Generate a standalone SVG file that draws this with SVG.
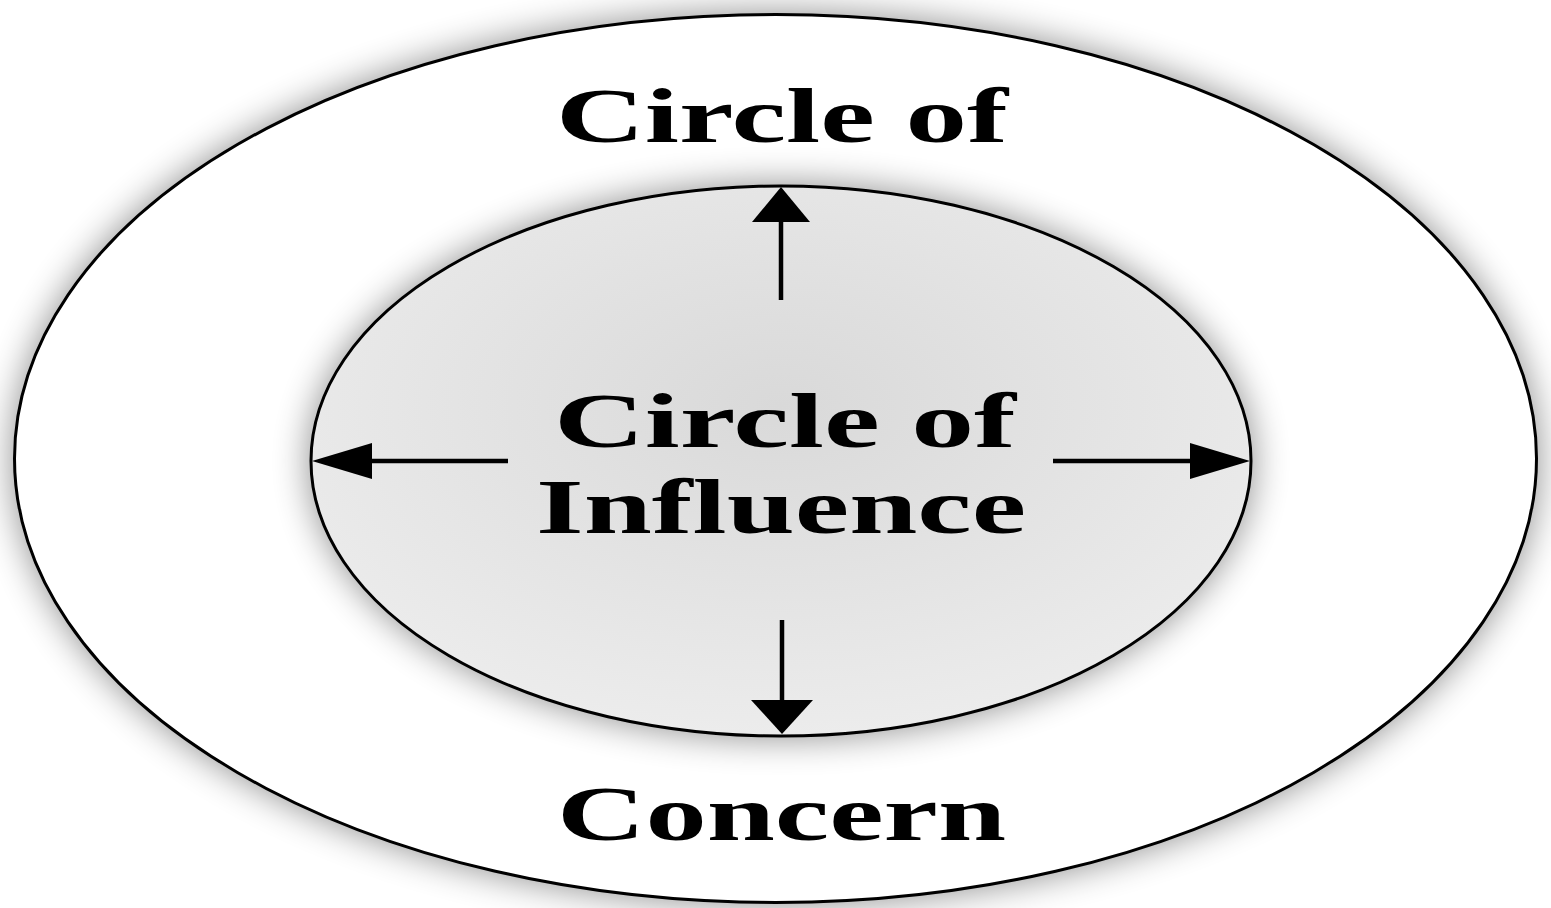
<svg xmlns="http://www.w3.org/2000/svg" width="1551" height="908" viewBox="0 0 1551 908">
  <style>
    .ring { stroke: #000; stroke-width: 3; }
    .lbl { font-family: "Liberation Serif", "Times New Roman", serif; font-weight: bold; font-size: 78px; fill: #000; }
    .shaft { stroke: #000; stroke-width: 4.5; fill: none; }
    .head { fill: #000; }
  </style>
  <defs>
    <filter id="glow" x="-10%" y="-10%" width="120%" height="120%">
      <feGaussianBlur in="SourceAlpha" stdDeviation="18" result="b"/>
      <feComponentTransfer in="b" result="s"><feFuncA type="linear" slope="0.45"/></feComponentTransfer>
      <feMerge><feMergeNode in="s"/><feMergeNode in="SourceGraphic"/></feMerge>
    </filter>
    <radialGradient id="innerFill" cx="0.5" cy="0.4" r="0.6">
      <stop offset="0" stop-color="#d9d9d9"/>
      <stop offset="1" stop-color="#ececec"/>
    </radialGradient>
  </defs>
  <rect width="1551" height="908" fill="#fff"/>
  <g id="circle-of-concern">
    <ellipse cx="775.5" cy="458.5" rx="761" ry="444" fill="#fff" class="ring" filter="url(#glow)"/>
    <text class="lbl" x="556" y="142" textLength="452" lengthAdjust="spacingAndGlyphs">Circle of</text>
    <text class="lbl" x="557" y="840" textLength="449" lengthAdjust="spacingAndGlyphs">Concern</text>
  </g>
  <g id="circle-of-influence">
    <ellipse cx="781" cy="461" rx="470" ry="275" fill="url(#innerFill)" class="ring" filter="url(#glow)"/>
    <text class="lbl" x="554" y="447" textLength="462" lengthAdjust="spacingAndGlyphs">Circle of</text>
    <text class="lbl" x="536" y="533" textLength="490" lengthAdjust="spacingAndGlyphs">Influence</text>
  </g>
  <g id="connectors">
    <line class="shaft" x1="781" y1="300" x2="781" y2="220"/>
    <path class="head" d="M781,187 L810,222 L752,222 Z"/>
    <line class="shaft" x1="782" y1="620" x2="782" y2="702"/>
    <path class="head" d="M782,734 L813,700 L751,700 Z"/>
    <line class="shaft" x1="508" y1="461" x2="370" y2="461"/>
    <path class="head" d="M312,461 L372,443 L372,479 Z"/>
    <line class="shaft" x1="1053" y1="461" x2="1192" y2="461"/>
    <path class="head" d="M1250,461 L1190,443 L1190,479 Z"/>
  </g>
</svg>
